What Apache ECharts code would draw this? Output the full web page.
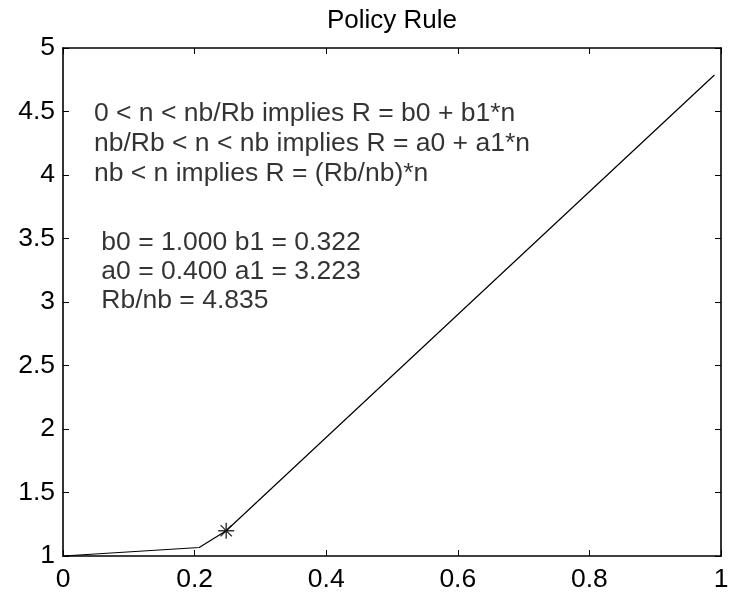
<!DOCTYPE html>
<html>
<head>
<meta charset="utf-8">
<script src="https://cdn.jsdelivr.net/npm/echarts@6/dist/echarts.min.js"></script>
<style>html,body{margin:0;padding:0;background:#fff}#c{width:740px;height:600px}</style>
</head>
<body>
<div id="c"></div>
<script>
// Policy rule line (n, R)
var nValues = [0, 0.207, 0.248, 0.99];
var rValues = [1, 1.067, 1.199, 4.787];
// Starred point
var starN = [0.248];
var starR = [1.199];
// Annotation texts and their data positions
var noteTexts = [
  '0 < n < nb/Rb implies R = b0 + b1*n',
  'nb/Rb < n < nb implies R = a0 + a1*n',
  'nb < n implies R = (Rb/nb)*n',
  ' b0 = 1.000 b1 = 0.322',
  ' a0 = 0.400 a1 = 3.223',
  ' Rb/nb = 4.835'
];
var noteX = [0.047, 0.047, 0.047, 0.047, 0.047, 0.047];
var noteY = [4.48, 4.25, 4.01, 3.47, 3.24, 3.01];
var xTicks = ['0', '0.2', '0.4', '0.6', '0.8', '1'];
var yTicks = ['1', '1.5', '2', '2.5', '3', '3.5', '4', '4.5', '5'];

var FONT = '"Liberation Sans", Arial, Helvetica, sans-serif';
var chart = echarts.init(document.getElementById('c'), null, {renderer: 'canvas'});

var lineData = nValues.map(function (n, i) { return [n, rValues[i]]; });
var starData = starN.map(function (n, i) { return [n, starR[i]]; });
var noteData = noteTexts.map(function (t, i) { return {value: [noteX[i], noteY[i]], name: t}; });

var axisCommon = {
  axisLine: {show: true, onZero: false, lineStyle: {color: '#000', width: 1.6}},
  axisTick: {show: true, inside: true, length: 6, lineStyle: {color: '#000', width: 1}},
  splitLine: {show: false}
};

chart.setOption({
  backgroundColor: '#fff',
  animation: false,
  title: {
    text: 'Policy Rule',
    left: 387, top: 3, textAlign: 'center',
    textStyle: {fontFamily: FONT, fontSize: 26, fontWeight: 'normal', color: '#000'}
  },
  grid: {left: 63, right: 19, top: 48, bottom: 44, containLabel: false, outerBoundsMode: 'none'},
  xAxis: [
    Object.assign({
      type: 'value', position: 'bottom', min: 0, max: 1, interval: 0.2,
      axisLabel: {
        fontFamily: FONT, fontSize: 26.5, color: '#000', margin: 10,
        formatter: function (v) { return xTicks[Math.round(v / 0.2)]; }
      }
    }, axisCommon),
    Object.assign({
      type: 'value', position: 'top', min: 0, max: 1, interval: 0.2,
      axisLabel: {show: false}
    }, axisCommon)
  ],
  yAxis: [
    Object.assign({
      type: 'value', position: 'left', min: 1, max: 5, interval: 0.5,
      axisLabel: {
        fontFamily: FONT, fontSize: 26.5, color: '#000', margin: 8,
        formatter: function (v) { return yTicks[Math.round((v - 1) / 0.5)]; }
      }
    }, axisCommon),
    Object.assign({
      type: 'value', position: 'right', min: 1, max: 5, interval: 0.5,
      axisLabel: {show: false}
    }, axisCommon)
  ],
  series: [
    {
      type: 'line', data: lineData, showSymbol: false, symbol: 'none',
      lineStyle: {color: '#000', width: 1.2}, xAxisIndex: 0, yAxisIndex: 0, z: 3
    },
    {
      type: 'scatter', data: starData, xAxisIndex: 0, yAxisIndex: 0,
      symbol: 'path://M0,-10L0,10M-10,0L10,0M-7,-7L7,7M-7,7L7,-7',
      symbolSize: 16,
      itemStyle: {color: 'none', borderColor: '#000', borderWidth: 1.4},
      z: 4
    },
    {
      type: 'scatter', data: noteData, xAxisIndex: 0, yAxisIndex: 0,
      symbolSize: 0, silent: true,
      label: {
        show: true, position: [0, 0], align: 'left', verticalAlign: 'middle',
        formatter: function (p) { return p.name; },
        fontFamily: FONT, fontSize: 26.5, color: '#000'
      }
    }
  ]
});
</script>
</body>
</html>
